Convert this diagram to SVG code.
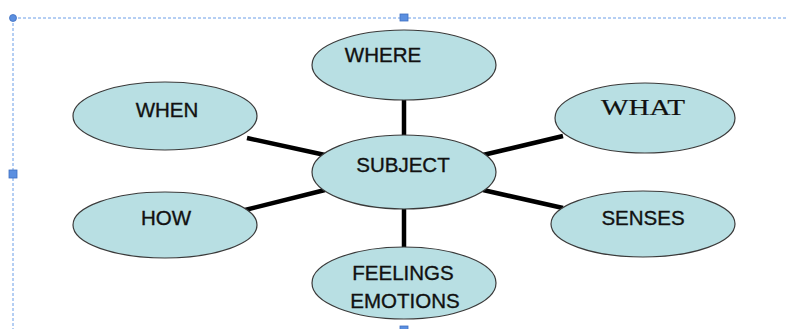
<svg xmlns="http://www.w3.org/2000/svg" width="788" height="329" viewBox="0 0 788 329">
<style>
.node ellipse{fill:#b8dfe3;stroke:#3a3a3a;stroke-width:1.2}
.node text{font-family:"Liberation Sans",Arial,sans-serif;font-size:20.5px;fill:#111;stroke:#111;stroke-width:0.35;text-anchor:middle}
.node text.serif{font-family:"Liberation Serif",serif;font-size:23px;stroke-width:0.2}
.conn line{stroke:#000;stroke-width:4.5}
.frame{stroke:#6a9ee8;stroke-width:1;fill:none;stroke-dasharray:3 2}
.handle{fill:#5b8fe0;stroke:#3f6fc0;stroke-width:0.8}
</style>
<rect width="788" height="329" fill="#fff"/>
<g id="frame">
<line class="frame" x1="13" y1="18" x2="788" y2="18"/>
<line class="frame" x1="13" y1="18" x2="13" y2="329"/>
<circle class="handle" cx="13" cy="18" r="3.5"/>
<rect class="handle" x="400" y="14" width="8" height="7"/>
<rect class="handle" x="9" y="170" width="8" height="8"/>
<rect class="handle" x="400" y="326" width="8" height="6"/>
</g>
<g class="conn" id="connectors">
<line x1="404" y1="99" x2="404" y2="137"/>
<line x1="247" y1="138" x2="325" y2="155"/>
<line x1="483" y1="155" x2="563" y2="136"/>
<line x1="245" y1="210" x2="325" y2="190"/>
<line x1="483" y1="190" x2="563" y2="208"/>
<line x1="404" y1="208" x2="404" y2="248"/>
</g>
<g class="node" id="where"><ellipse cx="404" cy="65" rx="92" ry="35"/><text x="383" y="62">WHERE</text></g>
<g class="node" id="when"><ellipse cx="165" cy="116" rx="92" ry="34"/><text x="167" y="117">WHEN</text></g>
<g class="node" id="what"><ellipse cx="645" cy="118" rx="90" ry="35"/><text class="serif" x="643" y="115" textLength="84" lengthAdjust="spacingAndGlyphs">WHAT</text></g>
<g class="node" id="subject"><ellipse cx="404" cy="172" rx="92" ry="37"/><text x="403" y="172">SUBJECT</text></g>
<g class="node" id="how"><ellipse cx="165" cy="225" rx="92" ry="33"/><text x="166" y="225">HOW</text></g>
<g class="node" id="senses"><ellipse cx="643" cy="224" rx="92" ry="33"/><text x="643" y="225">SENSES</text></g>
<g class="node" id="feelings"><ellipse cx="404" cy="283" rx="92" ry="36"/><text x="403" y="280">FEELINGS</text><text x="405" y="308">EMOTIONS</text></g>
</svg>
